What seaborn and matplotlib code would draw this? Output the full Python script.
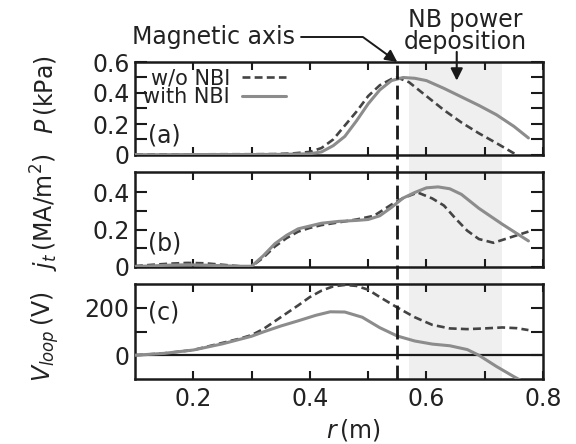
import matplotlib
matplotlib.use("Agg")
import matplotlib.pyplot as plt
import seaborn as sns
from matplotlib import transforms
from matplotlib.patches import Rectangle
from matplotlib.lines import Line2D

# ---------------- data ----------------
# (a) pressure P (kPa)
r_a_wo = [0.10, 0.15, 0.20, 0.25, 0.30, 0.34, 0.37, 0.40, 0.42, 0.44, 0.46, 0.48,
          0.50, 0.52, 0.54, 0.55, 0.57, 0.60, 0.63, 0.66, 0.69, 0.72, 0.755]
p_a_wo = [0.003, 0.004, 0.004, 0.005, 0.005, 0.006, 0.01, 0.02, 0.045, 0.10, 0.19, 0.28,
          0.38, 0.45, 0.49, 0.50, 0.47, 0.38, 0.29, 0.21, 0.14, 0.077, 0.0]
r_a_w = [0.10, 0.15, 0.20, 0.25, 0.30, 0.35, 0.40, 0.42, 0.44, 0.46, 0.48, 0.50,
         0.52, 0.54, 0.56, 0.58, 0.60, 0.63, 0.66, 0.69, 0.72, 0.75, 0.775]
p_a_w = [0.002, 0.002, 0.003, 0.003, 0.003, 0.004, 0.008, 0.02, 0.06, 0.12, 0.22, 0.33,
         0.42, 0.48, 0.50, 0.495, 0.48, 0.43, 0.375, 0.32, 0.26, 0.185, 0.11]

# (b) current density j_t (MA/m^2)
r_b_wo = [0.10, 0.13, 0.16, 0.19, 0.22, 0.25, 0.28, 0.30, 0.32, 0.34, 0.36, 0.38, 0.40,
          0.42, 0.45, 0.48, 0.51, 0.54, 0.56, 0.585, 0.61, 0.63, 0.65, 0.67, 0.69,
          0.715, 0.74, 0.775]
j_b_wo = [0.005, 0.012, 0.018, 0.022, 0.02, 0.012, 0.004, 0.003, 0.05, 0.11, 0.155, 0.19,
          0.21, 0.225, 0.24, 0.255, 0.275, 0.335, 0.37, 0.40, 0.368, 0.33, 0.26, 0.195,
          0.15, 0.13, 0.155, 0.19]
r_b_w = [0.10, 0.13, 0.16, 0.19, 0.22, 0.25, 0.28, 0.30, 0.32, 0.34, 0.36, 0.38, 0.40,
         0.42, 0.45, 0.48, 0.50, 0.52, 0.54, 0.56, 0.58, 0.60, 0.62, 0.64, 0.66, 0.69,
         0.73, 0.775]
j_b_w = [0.003, 0.006, 0.01, 0.012, 0.01, 0.007, 0.004, 0.004, 0.06, 0.125, 0.17, 0.205,
         0.22, 0.235, 0.245, 0.25, 0.255, 0.275, 0.32, 0.37, 0.40, 0.425, 0.43, 0.42,
         0.39, 0.315, 0.23, 0.14]

# (c) loop voltage V_loop (V)
r_c_wo = [0.10, 0.15, 0.20, 0.25, 0.28, 0.30, 0.32, 0.35, 0.38, 0.40, 0.42, 0.44, 0.46,
          0.48, 0.50, 0.52, 0.55, 0.58, 0.61, 0.64, 0.67, 0.70, 0.73, 0.755, 0.775]
v_c_wo = [0, 8, 22, 52, 70, 85, 110, 160, 210, 245, 272, 290, 296, 292, 276, 245, 201,
          160, 128, 113, 110, 113, 117, 114, 106]
r_c_w = [0.10, 0.15, 0.20, 0.25, 0.30, 0.32, 0.35, 0.38, 0.41, 0.435, 0.46, 0.49, 0.52,
         0.55, 0.58, 0.61, 0.64, 0.67, 0.69, 0.72, 0.75, 0.78]
v_c_w = [0, 8, 22, 48, 80, 98, 123, 145, 168, 183, 182, 160, 116, 81, 60, 47, 40, 24, 0,
         -47, -90, -130]

labels = ["w/o NBI", "with NBI"]
panel_tags = ["(a)", "(b)", "(c)"]
MAG_AXIS = 0.55
NB_LO, NB_HI = 0.57, 0.73

# ---------------- style ----------------
sns.set_theme(style="ticks")
plt.rcParams["font.family"] = ["DejaVu Sans"]
plt.rcParams["mathtext.fontset"] = "dejavusans"
FS = 17
DASH_C = "#444444"
SOLID_C = "#8c8c8c"
DASH = (0, (3, 1.6))

fig = plt.figure(figsize=(5.76, 4.44), dpi=100)
FW, FH = 576.0, 444.0
L, W = 135 / FW, 408 / FW
axa = fig.add_axes([L, 1 - 155 / FH, W, 93 / FH])
axb = fig.add_axes([L, 1 - 267 / FH, W, 95 / FH], sharex=axa)
axc = fig.add_axes([L, 1 - 379 / FH, W, 95 / FH], sharex=axa)
axes = [axa, axb, axc]

series = [
    (axa, r_a_wo, p_a_wo, r_a_w, p_a_w),
    (axb, r_b_wo, j_b_wo, r_b_w, j_b_w),
    (axc, r_c_wo, v_c_wo, r_c_w, v_c_w),
]
for ax, rx1, y1, rx2, y2 in series:
    sns.lineplot(x=rx1, y=y1, ax=ax, color=DASH_C, lw=1.9, linestyle=DASH,
                 errorbar=None, zorder=3)
    sns.lineplot(x=rx2, y=y2, ax=ax, color=SOLID_C, lw=2.2, errorbar=None, zorder=3)

axc.axhline(0, color="k", lw=1.6, zorder=2)

# limits & ticks
axa.set_xlim(0.1, 0.8)
axa.set_ylim(0, 0.6)
axb.set_ylim(0, 0.51)
axc.set_ylim(-100, 300)

axc.set_xticks([0.2, 0.4, 0.6, 0.8])
axc.set_xticklabels(["0.2", "0.4", "0.6", "0.8"])
axc.set_xticks([0.3, 0.5, 0.7], minor=True)

axa.set_yticks([0, 0.2, 0.4, 0.6])
axa.set_yticklabels(["0", "0.2", "0.4", "0.6"])
axa.set_yticks([0.1, 0.3, 0.5], minor=True)
axb.set_yticks([0, 0.2, 0.4])
axb.set_yticklabels(["0", "0.2", "0.4"])
axb.set_yticks([0.1, 0.3], minor=True)
axc.set_yticks([0, 200])
axc.set_yticklabels(["0", "200"])
axc.set_yticks([100], minor=True)

for i, ax in enumerate(axes):
    ax.set_facecolor("none")
    ax.set_xlabel("")
    ax.set_ylabel("")
    for s in ax.spines.values():
        s.set_linewidth(1.8)
        s.set_color("k")
        s.set_visible(True)
    ax.tick_params(axis="both", which="both", direction="in", top=True, right=True,
                   width=1.5, color="k", labelsize=FS, labelcolor="#222222")
    ax.tick_params(axis="y", which="both", length=8.5, pad=4)
    ax.tick_params(axis="x", which="both", length=6, pad=6)
    if i < 2:
        ax.tick_params(axis="x", which="both", labelbottom=False)

# panel tags
axa.text(0.032, 0.215, panel_tags[0], transform=axa.transAxes, ha="left", va="center",
         fontsize=FS, color="#222222")
axb.text(0.032, 0.25, panel_tags[1], transform=axb.transAxes, ha="left", va="center",
         fontsize=FS, color="#222222")
axc.text(0.032, 0.705, panel_tags[2], transform=axc.transAxes, ha="left", va="center",
         fontsize=FS, color="#222222")

# legend (text left, line right)
h = axa.get_lines()[:2]
axa.legend(h, labels, loc="upper left", bbox_to_anchor=(0.02, 0.93), borderaxespad=0,
           borderpad=0, frameon=False, markerfirst=False, fontsize=15,
           handlelength=2.1, handletextpad=0.6, labelspacing=-0.05,
           labelcolor="#222222")

# shaded NB deposition region and magnetic-axis line across all panels
y_top = 1 - 62 / FH
y_bot = 1 - 379 / FH
trans = transforms.blended_transform_factory(axa.transData, fig.transFigure)
fig.add_artist(Rectangle((NB_LO, y_bot), NB_HI - NB_LO, y_top - y_bot, transform=trans,
                         facecolor="#efefef", edgecolor="none", zorder=-1))
fig.add_artist(Line2D([MAG_AXIS, MAG_AXIS], [y_bot, y_top], transform=trans, color="k",
                      lw=2.0, linestyle=(0, (5, 2.2)), zorder=5))

# annotations
axa.annotate("Magnetic axis", xy=(MAG_AXIS, 0.6), xycoords="data",
             xytext=(132, FH - 37), textcoords="figure pixels", ha="left", va="center",
             fontsize=FS, color="#222222", annotation_clip=False,
             arrowprops=dict(arrowstyle="-|>", color="k", lw=1.4, mutation_scale=18,
                             connectionstyle="angle,angleA=0,angleB=144,rad=0",
                             shrinkA=2, shrinkB=0))
fig.text(465 / FW, 1 - 31 / FH, "NB power\ndeposition", ha="center", va="center",
         fontsize=FS, linespacing=0.85, color="#222222")
axa.annotate("", xy=(0.652, 0.48), xytext=(0.652, 0.665), xycoords="data",
             textcoords="data", annotation_clip=False,
             arrowprops=dict(arrowstyle="-|>", color="k", lw=1.5, mutation_scale=18,
                             shrinkA=0, shrinkB=0))

# axis labels
fig.text(45 / FW, 1 - 95 / FH, r"$P\,$(kPa)", rotation=90, ha="center", va="center",
         fontsize=FS, color="#222222")
fig.text(45 / FW, 1 - 212 / FH, r"$j_t\,$(MA/m$^2$)", rotation=90, ha="center",
         va="center", fontsize=FS, color="#222222")
fig.text(45 / FW, 1 - 337 / FH, r"$V_{loop}\,$(V)", rotation=90, ha="center",
         va="center", fontsize=FS, color="#222222")
fig.text(353 / FW, 1 - 430 / FH, r"$r\,$(m)", ha="center", va="center", fontsize=FS,
         color="#222222")

fig.savefig("out.png", dpi=100)
